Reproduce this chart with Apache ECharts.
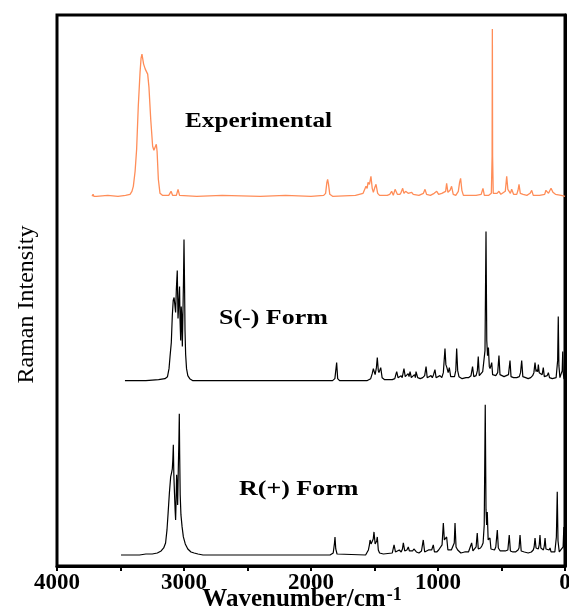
<!DOCTYPE html>
<html>
<head>
<meta charset="utf-8">
<title>Raman spectra</title>
<script src="https://cdn.jsdelivr.net/npm/echarts@6/dist/echarts.min.js"></script>
<style>
  html, body { margin: 0; padding: 0; background: #fff; }
  #chart { width: 569px; height: 616px; }
</style>
</head>
<body>
<div id="chart"></div>
<script>
// [wavenumber (cm-1), intensity above own baseline (a.u.)]
var experimental = [
  [3724,0],[3716,2],[3710,0],[3702,1],[3690,0],[3600,1],[3520,0],[3460,1],[3425,2],[3410,5],
  [3399,10],[3385,25],[3373,47],[3360,90],[3346,124],[3338,138],[3331,142],[3318,132],[3305,127],
  [3295,128],[3286,122],[3276,109],[3262,77],[3247,50],[3237,46],[3228,47],[3218,52],[3212,45],
  [3202,17],[3189,3],[3170,1],[3120,1],[3102,5],[3090,1],[3060,1],[3047,7],[3035,1],[2900,0],
  [2700,1],[2400,0],[2200,1],[2000,0],[1900,1],[1885,3],[1875,14],[1869,17],[1862,12],[1852,2],
  [1830,0],[1650,1],[1590,3],[1567,10],[1558,8],[1551,14],[1540,12],[1528,20],[1518,8],[1509,4],
  [1497,9],[1488,12],[1475,3],[1460,1],[1400,1],[1380,2],[1365,5],[1352,1],[1338,7],[1320,2],
  [1300,2],[1290,4],[1278,8],[1268,3],[1255,5],[1246,6],[1235,3],[1220,4],[1207,4],[1195,2],
  [1180,3],[1150,1],[1115,3],[1102,7],[1090,2],[1060,1],[1030,3],[1010,5],[995,2],[970,3],
  [955,2],[940,5],[932,13],[922,4],[905,6],[893,10],[880,2],[860,1],[840,5],[830,14],[822,18],
  [812,6],[800,1],[760,1],[700,1],[660,2],[646,8],[635,1],[600,1],[580,3],[574,40],[572,167],
  [570,40],[565,3],[550,2],[535,3],[520,5],[505,2],[490,3],[470,5],[459,20],[450,7],[440,5],
  [430,3],[420,7],[405,2],[380,2],[370,6],[362,12],[352,3],[330,2],[300,1],[275,3],[262,6],
  [250,1],[200,1],[160,2],[150,6],[144,7],[130,3],[120,4],[110,8],[104,9],[95,4],[87,5],
  [75,2],[60,1],[30,1],[0,0]
];

var sForm = [
  [3465,0],[3300,0],[3200,1],[3150,2],[3130,4],[3118,12],[3110,24],[3100,38],[3092,65],[3085,80],
  [3078,83],[3071,84],[3066,68],[3060,92],[3053,110],[3047,62],[3041,78],[3035,94],[3031,60],
  [3026,40],[3022,74],[3018,66],[3013,34],[3008,70],[3004,100],[3000,141],[2996,100],[2992,50],
  [2987,26],[2980,12],[2970,5],[2955,2],[2930,0],[2800,0],[1830,0],[1812,2],[1798,18],[1790,2],
  [1775,0],[1560,0],[1530,2],[1518,7],[1509,12],[1500,8],[1495,6],[1485,13],[1478,23],[1470,10],
  [1465,8],[1451,13],[1440,3],[1420,1],[1360,1],[1340,2],[1330,7],[1325,9],[1315,3],[1300,4],
  [1290,5],[1282,3],[1268,12],[1258,4],[1245,5],[1235,7],[1228,4],[1220,9],[1210,3],[1200,4],
  [1185,6],[1178,3],[1173,9],[1160,3],[1140,2],[1120,3],[1105,5],[1094,14],[1085,3],[1070,4],
  [1055,5],[1045,3],[1035,6],[1024,11],[1015,3],[1000,4],[985,5],[970,3],[958,8],[945,32],
  [938,16],[930,13],[920,8],[911,13],[900,4],[885,5],[870,4],[860,10],[853,32],[845,10],
  [835,4],[810,2],[780,3],[760,3],[740,5],[728,14],[718,4],[700,5],[690,10],[683,24],[675,5],
  [660,6],[648,9],[640,10],[630,30],[622,149],[616,40],[610,25],[603,33],[596,14],[590,12],
  [577,18],[570,6],[560,5],[545,5],[530,8],[520,25],[512,6],[500,5],[480,4],[465,4],[445,6],
  [433,20],[425,4],[405,3],[380,3],[360,4],[350,8],[341,20],[332,4],[310,3],[290,2],[270,3],
  [255,5],[245,8],[236,18],[228,9],[222,11],[215,9],[210,16],[203,8],[190,9],[180,6],[171,13],
  [163,4],[150,3],[140,5],[131,8],[122,3],[100,2],[85,3],[70,3],[58,20],[53,64],[48,15],
  [40,3],[30,2],[22,10],[18,29],[14,8],[8,2],[0,1]
];

var rForm = [
  [3496,0],[3350,0],[3300,1],[3250,1],[3210,2],[3180,4],[3160,7],[3145,12],[3134,25],[3125,42],
  [3115,62],[3105,78],[3098,82],[3092,86],[3088,95],[3084,110],[3080,80],[3075,62],[3070,45],
  [3066,35],[3062,55],[3058,80],[3054,70],[3050,50],[3045,85],[3040,115],[3037,141],[3034,100],
  [3030,60],[3024,40],[3015,28],[3005,18],[2990,11],[2970,6],[2945,3],[2920,2],[2890,1],[2850,0],
  [1850,0],[1825,2],[1815,12],[1811,18],[1805,6],[1795,1],[1780,0],[1570,0],[1548,5],[1540,10],
  [1535,15],[1527,11],[1520,10],[1510,16],[1504,23],[1495,11],[1490,10],[1483,14],[1478,18],
  [1470,5],[1460,2],[1430,1],[1360,2],[1346,10],[1335,3],[1320,4],[1305,5],[1290,3],[1280,6],
  [1273,12],[1262,4],[1245,5],[1234,8],[1225,4],[1210,5],[1200,4],[1190,6],[1181,6],[1170,3],
  [1150,2],[1130,4],[1116,15],[1105,3],[1090,3],[1075,5],[1060,4],[1050,5],[1037,10],[1028,3],
  [1010,3],[995,5],[980,5],[968,10],[958,32],[950,15],[940,16],[932,18],[922,5],[910,4],
  [895,5],[880,6],[872,12],[866,32],[858,8],[845,5],[820,2],[790,3],[760,3],[745,4],[735,12],
  [725,4],[710,4],[700,8],[691,22],[683,6],[665,7],[655,9],[645,12],[636,30],[628,150],
  [622,45],[617,30],[612,43],[605,15],[598,14],[591,17],[583,6],[570,6],[555,5],[545,8],
  [533,25],[525,7],[510,4],[490,4],[470,4],[450,5],[439,20],[430,4],[410,3],[390,3],[370,5],
  [362,7],[354,20],[345,4],[320,3],[290,2],[265,3],[250,5],[243,8],[236,17],[228,7],[218,8],
  [210,6],[203,10],[197,20],[190,7],[180,8],[170,5],[163,9],[157,17],[150,6],[138,5],[125,5],
  [118,7],[110,3],[95,2],[80,3],[68,18],[61,63],[55,14],[45,3],[30,2],[15,8],[9,28],[5,6],[0,2]
];

// vertical stacking offsets of each trace (a.u.)
var offsets = { experimental: 369, sForm: 185, rForm: 11 };
var xTicks = [0, 500, 1000, 1500, 2000, 2500, 3000, 3500, 4000];

function shift(arr, off) {
  return arr.map(function (p) { return [p[0], p[1] + off]; });
}

var chart = echarts.init(document.getElementById('chart'));
var serif = '"Liberation Serif", "Times New Roman", serif';

chart.setOption({
  animation: false,
  backgroundColor: '#fff',
  grid: {
    left: 57, right: 4, top: 15, bottom: 50,
    outerBoundsMode: 'none',
    show: true, borderColor: '#000', borderWidth: 3
  },
  xAxis: {
    type: 'value',
    inverse: true,
    min: xTicks[0],
    max: xTicks[xTicks.length - 1],
    interval: 500,
    axisLine: { lineStyle: { color: '#000', width: 3 } },
    axisTick: { show: true, inside: false, length: 5, lineStyle: { color: '#000', width: 2 } },
    splitLine: { show: false },
    axisLabel: {
      margin: 6,
      color: '#000',
      fontFamily: serif,
      fontWeight: 'bold',
      fontSize: 23,
      formatter: function (v) { return v % 1000 === 0 ? String(v) : ''; }
    },
    name: '{a|Wavenumber/cm}{b|-1}',
    nameLocation: 'middle',
    nameGap: 20,
    nameMoveOverlap: false,
    nameTextStyle: {
      padding: [0, 18, 0, 0],
      rich: {
        a: { fontFamily: serif, fontWeight: 'bold', fontSize: 25, color: '#000' },
        b: { fontFamily: serif, fontWeight: 'bold', fontSize: 18, color: '#000', padding: [0, 0, 10, 1] }
      }
    }
  },
  yAxis: {
    type: 'value',
    min: 0,
    max: 550,
    axisLine: { show: true, lineStyle: { color: '#000', width: 3 } },
    axisTick: { show: false },
    axisLabel: { show: false },
    splitLine: { show: false },
    name: 'Raman Intensity',
    nameLocation: 'middle',
    nameGap: 18,
    nameMoveOverlap: false,
    nameTextStyle: {
      fontFamily: serif,
      fontSize: 24,
      color: '#000',
      padding: [0, 28, 0, 0]
    }
  },
  graphic: [
    { type: 'text', x: 185, y: 122, scaleX: 1.2,
      style: { text: 'Experimental', font: 'bold 21px ' + serif, fill: '#000',
               textAlign: 'left', textVerticalAlign: 'middle' } },
    { type: 'text', x: 219, y: 318, scaleX: 1.18,
      style: { text: 'S(-) Form', font: 'bold 22px ' + serif, fill: '#000',
               textAlign: 'left', textVerticalAlign: 'middle' } },
    { type: 'text', x: 239, y: 489, scaleX: 1.18,
      style: { text: 'R(+) Form', font: 'bold 22px ' + serif, fill: '#000',
               textAlign: 'left', textVerticalAlign: 'middle' } }
  ],
  series: [
    {
      name: 'Experimental', type: 'line', showSymbol: false,
      lineStyle: { color: '#ff8d58', width: 1.3 },
      data: shift(experimental, offsets.experimental)
    },
    {
      name: 'S(-) Form', type: 'line', showSymbol: false,
      lineStyle: { color: '#000', width: 1.2 },
      data: shift(sForm, offsets.sForm)
    },
    {
      name: 'R(+) Form', type: 'line', showSymbol: false,
      lineStyle: { color: '#000', width: 1.2 },
      data: shift(rForm, offsets.rForm)
    }
  ]
});
</script>
</body>
</html>
